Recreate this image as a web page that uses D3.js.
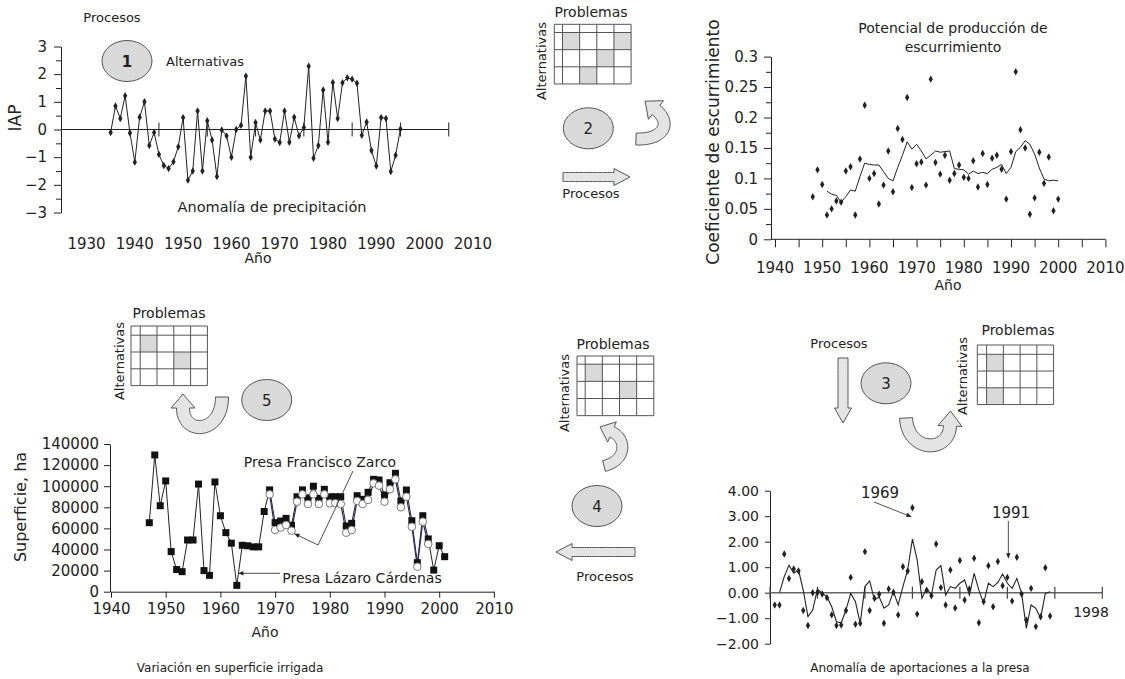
<!DOCTYPE html>
<html><head><meta charset="utf-8">
<script src="https://cdn.jsdelivr.net/npm/d3@7"></script>
<style>
body{margin:0;background:#fff;}
svg{display:block;font-family:"DejaVu Sans",sans-serif;}
text{fill:#222;}
.ax path,.ax line{stroke:#222;stroke-width:1;}
.ax text{fill:#222;font-family:"DejaVu Sans",sans-serif;}
</style></head><body>
<script>
// ---- Panel 1: precipitation anomaly index (IAP), yearly from 1935 ----
const iapStart = 1935;
const iapValues = [-0.11,0.85,0.40,1.22,-0.13,-1.18,0.44,1.00,-0.58,-0.11,
  -0.90,-1.30,-1.41,-1.17,-0.62,0.43,-1.83,-1.50,0.67,-1.50,
  0.32,-0.38,-1.70,-0.02,-0.23,-1.00,0.00,0.15,1.93,-1.00,
  0.25,-0.38,0.67,0.67,-0.34,-0.47,0.67,-0.46,0.44,-0.23,
  0.07,2.29,-1.04,-0.58,1.43,-0.46,1.70,0.40,1.69,1.87,
  1.82,1.67,-0.21,0.27,-0.76,-1.32,0.43,0.40,-1.52,-0.93,0.02];
const iapYTicks = [-3,-2,-1,0,1,2,3];
const iapXLabels = [1930,1940,1950,1960,1970,1980,1990,2000,2010];
const iapZeroTicks = [1945,1955,1965,1975,1985,1995,2005];

// ---- Panel 2: runoff coefficient, yearly points from 1948, smoothed curve from 1951 ----
const runoffStart = 1948;
const runoffPoints = [0.070,0.114,0.090,0.040,0.050,0.063,0.061,0.112,0.119,0.040,
  0.132,0.220,0.100,0.108,0.058,0.089,0.145,0.078,0.182,0.164,
  0.233,0.085,0.124,0.127,0.089,0.263,0.126,0.107,0.138,0.097,
  0.108,0.122,0.102,0.100,0.129,0.086,0.141,0.090,0.133,0.138,
  0.115,0.066,0.144,0.275,0.180,0.150,0.041,0.068,0.143,0.092,
  0.135,0.047,0.066];
const runoffCurveStart = 1951;
const runoffCurve = [0.079,0.074,0.072,0.061,0.070,0.081,0.079,0.103,0.125,0.123,
  0.122,0.122,0.111,0.100,0.096,0.118,0.138,0.160,0.148,0.156,
  0.145,0.132,0.138,0.145,0.143,0.144,0.145,0.116,0.115,0.114,
  0.107,0.112,0.108,0.110,0.108,0.115,0.118,0.123,0.108,0.118,
  0.144,0.151,0.162,0.156,0.140,0.117,0.099,0.096,0.097,0.096];
const runoffYTicks = [0,0.05,0.1,0.15,0.2,0.25,0.3];
const runoffXTicks = [1940,1945,1950,1955,1960,1965,1970,1975,1980,1985,1990,1995,2000,2005,2010];
const runoffXLabels = [1940,1950,1960,1970,1980,1990,2000,2010];

// ---- Panel 3: irrigated area (ha) ----
const lcStart = 1947; // Presa Lázaro Cárdenas
const lcArea = [65400,129600,81500,105000,38000,21000,19000,49000,49000,102000,
  20000,15500,104000,72000,56000,46000,6000,44000,43500,42500,
  42500,76000,96500,65500,67000,69500,63000,90000,96500,89000,
  100000,88500,97000,90000,90000,90000,62300,64800,91000,87600,
  94200,106500,105900,91700,103300,112200,86000,96400,67300,27500,
  72000,50000,20500,43600,33200];
const fzStart = 1969; // Presa Francisco Zarco
const fzArea = [92300,58500,60700,63200,57800,85300,92300,83100,92300,83100,
  92300,83800,83800,83100,55900,58500,86000,83100,87000,102700,
  100500,85300,97100,106500,80000,90000,61600,23700,66400,45200];
const areaYTicks = [0,20000,40000,60000,80000,100000,120000,140000];
const areaXTicks = [1940,1950,1960,1970,1980,1990,2000,2010];

// ---- Panel 4: inflow anomaly to the reservoir ----
const inflowStart = 1940;
const inflowPoints = [-0.48,-0.48,1.52,0.56,0.93,0.85,-0.70,-1.29,0.00,0.01,
  -0.05,-0.20,-0.87,-1.29,-1.27,-0.70,0.60,-1.24,-1.20,1.61,
  -0.70,-0.22,-0.06,-1.20,0.15,0.02,-0.87,1.02,0.85,3.33,
  -0.84,0.43,0.10,-0.12,1.91,0.20,-0.48,0.89,-0.60,1.26,
  -0.29,0.15,1.35,-1.18,-0.35,1.06,-0.55,1.22,0.27,0.60,
  -0.33,1.39,-0.05,-1.07,0.17,-1.33,-0.94,0.98,-0.91];
const inflowCurveStart = 1941;
const inflowCurve = [0.00,0.63,1.08,0.76,0.89,0.10,-0.94,-0.68,0.14,-0.03,
  -0.16,-0.55,-1.14,-1.18,-0.68,-0.03,-0.35,-1.20,0.24,0.46,
  -0.29,-0.16,-0.61,-0.48,0.04,-0.48,0.24,0.89,2.10,1.29,
  -0.22,0.17,-0.09,0.89,1.06,-0.09,0.24,0.17,0.37,0.50,
  -0.09,0.76,0.10,-0.42,0.37,0.24,0.40,0.73,0.37,0.17,
  0.56,-0.03,-1.40,-0.48,-0.61,-1.00,-0.03,0.04];
const inflowYTicks = [-2,-1,0,1,2,3,4];
const inflowZeroTicks = [1939,1949,1959,1969,1979,1989,1999,2009];

const svg = d3.select("body").append("svg").attr("width",1125).attr("height",679);
const INK = "#222", GRID = "#555", SHADE = "#d9d9d9";
const fmtInt = d3.format("d");

function label(g, x, y, s, size, anchor="middle", rot=0, weight="normal") {
  const t = g.append("text").attr("x",x).attr("y",y).attr("font-size",size)
    .attr("text-anchor",anchor).attr("dominant-baseline","central")
    .attr("font-weight",weight).text(s);
  if (rot) t.attr("transform",`rotate(${rot},${x},${y})`);
  return t;
}
function styleAxis(sel, size) {
  sel.attr("class","ax").attr("font-size",size);
  return sel;
}
function bubble(g, cx, cy, n, weight="normal") {
  g.append("ellipse").attr("cx",cx).attr("cy",cy).attr("rx",25).attr("ry",20.5)
    .attr("fill",SHADE).attr("stroke",GRID).attr("stroke-width",1);
  label(g, cx, cy+1, n, 15, "middle", 0, weight);
}
// problem/alternative matrix: header strip plus 4 x 3 cells
function matrix(g, x0, y0, hw, cw, shaded) {
  const xs=[x0, x0+hw], ys=[y0, y0+hw];
  for (let i=1;i<=4;i++) xs.push(x0+hw+i*cw);
  for (let i=1;i<=3;i++) ys.push(y0+hw+i*cw);
  shaded.forEach(([r,c]) => g.append("rect").attr("x",xs[c]).attr("y",ys[r])
    .attr("width",cw).attr("height",cw).attr("fill",SHADE));
  xs.forEach(x => g.append("line").attr("x1",x).attr("x2",x).attr("y1",ys[0]).attr("y2",ys[ys.length-1]).attr("stroke",GRID));
  ys.forEach(y => g.append("line").attr("y1",y).attr("y2",y).attr("x1",xs[0]).attr("x2",xs[xs.length-1]).attr("stroke",GRID));
  return {xs, ys};
}
// block arrow whose body follows a cubic Bezier; head continues along the end tangent
function blockArrow(g, p0, c1, c2, p1, w, hw, hl) {
  const B=(t,a,b,c,d)=>{const u=1-t;return u*u*u*a+3*u*u*t*b+3*u*t*t*c+t*t*t*d;};
  const D=(t,a,b,c,d)=>{const u=1-t;return 3*u*u*(b-a)+6*u*t*(c-b)+3*t*t*(d-c);};
  const L=[],R=[];
  const N=40;
  let T=[1,0];
  for (let i=0;i<=N;i++){
    const t=i/N;
    const x=B(t,p0[0],c1[0],c2[0],p1[0]), y=B(t,p0[1],c1[1],c2[1],p1[1]);
    let dx=D(t,p0[0],c1[0],c2[0],p1[0]), dy=D(t,p0[1],c1[1],c2[1],p1[1]);
    const m=Math.hypot(dx,dy)||1; dx/=m; dy/=m; T=[dx,dy];
    L.push([x - dy*w/2, y + dx*w/2]); R.push([x + dy*w/2, y - dx*w/2]);
  }
  const [ex,ey]=p1, [tx,ty]=T, nx=-ty, ny=tx;
  const pts = L.concat([[ex+nx*hw, ey+ny*hw],[ex+tx*hl, ey+ty*hl],[ex-nx*hw, ey-ny*hw]], R.reverse());
  g.append("path").attr("d", d3.line()(pts)+"Z").attr("fill","#e4e4e4")
    .attr("stroke",GRID).attr("stroke-width",1).attr("stroke-linejoin","round");
}
const diamond = d3.symbol().type(d3.symbolDiamond).size(16);
function arrowHead(g, from, to, size=5) {
  const a=Math.atan2(to[1]-from[1], to[0]-from[0]);
  const p=[to,[to[0]-size*Math.cos(a)+size*0.45*Math.sin(a), to[1]-size*Math.sin(a)-size*0.45*Math.cos(a)],
    [to[0]-size*Math.cos(a)-size*0.45*Math.sin(a), to[1]-size*Math.sin(a)+size*0.45*Math.cos(a)]];
  g.append("path").attr("d",d3.line()(p)+"Z").attr("fill",INK);
}

// ================= Panel 1 =================
{
  const g = svg.append("g");
  const x = d3.scaleLinear().domain([1930,2010]).range([86.5,472.9]);
  const y = d3.scaleLinear().domain([-3,3]).range([212.5,46.5]);
  styleAxis(g.append("g").attr("transform","translate(61,0)")
    .call(d3.axisLeft(y).tickValues(iapYTicks).tickSize(7).tickSizeOuter(0).tickPadding(7).tickFormat(fmtInt)), 15);
  const minor = d3.range(-2.5,3,1);
  styleAxis(g.append("g").attr("transform","translate(61,0)")
    .call(d3.axisLeft(y).tickValues(minor).tickSize(5).tickFormat("")), 15).select(".domain").remove();
  iapXLabels.forEach(v => label(g, x(v), 244, v, 15));
  g.append("line").attr("x1",61).attr("x2",x(2005)).attr("y1",y(0)).attr("y2",y(0)).attr("stroke",INK);
  iapZeroTicks.forEach(v => g.append("line").attr("x1",x(v)).attr("x2",x(v))
    .attr("y1",y(0)-7).attr("y2",y(0)+7).attr("stroke",INK));
  const line = d3.line().x((d,i)=>x(iapStart+i)).y(d=>y(d));
  g.append("path").attr("d",line(iapValues)).attr("fill","none").attr("stroke",INK).attr("stroke-width",1);
  g.selectAll(".d1").data(iapValues).join("path")
    .attr("transform",(d,i)=>`translate(${x(iapStart+i)},${y(d)})`).attr("d",diamond).attr("fill",INK);
  label(g, 15, 118, "IAP", 17, "middle", -90);
  label(g, 258, 258, "Año", 14);
  label(g, 272, 207, "Anomalía de precipitación", 14.5);
  label(g, 112, 17, "Procesos", 13);
  bubble(g, 127, 61, "1", "bold");
  label(g, 166, 61, "Alternativas", 13, "start");
}

// ================= Diagram 2 (top centre) =================
{
  const g = svg.append("g");
  matrix(g, 554.3, 24.3, 8.2, 17.15, [[1,1],[1,4],[2,3],[3,2]]);
  label(g, 591, 12, "Problemas", 14);
  label(g, 541, 61, "Alternativas", 13, "middle", -90);
  bubble(g, 588.3, 128.3, "2");
  blockArrow(g, [636,139], [664,140], [672,123], [656,110], 12, 12, 14);
  blockArrow(g, [563,177], [580,177], [597,177], [614,177], 9, 8.5, 16);
  label(g, 591, 193, "Procesos", 13);
}

// ================= Panel 2 =================
{
  const g = svg.append("g");
  const x = d3.scaleLinear().domain([1940,2010]).range([775,1105.4]);
  const y = d3.scaleLinear().domain([0,0.3]).range([239.3,56.6]);
  styleAxis(g.append("g").attr("transform","translate(771,0)")
    .call(d3.axisLeft(y).tickValues(runoffYTicks).tickSize(7).tickSizeOuter(0).tickPadding(6)
      .tickFormat(d => d===0 ? "0" : String(+d.toFixed(3)))), 15);
  styleAxis(g.append("g").attr("transform","translate(771,0)")
    .call(d3.axisLeft(y).tickValues(d3.range(0.025,0.3,0.05)).tickSize(5).tickFormat("")), 15)
    .select(".domain").remove();
  const xa = styleAxis(g.append("g").attr("transform",`translate(0,${y(0)})`)
    .call(d3.axisBottom(x).tickValues(runoffXTicks).tickSize(8).tickFormat("")), 15);
  xa.select(".domain").remove();
  g.append("line").attr("x1",771).attr("x2",x(2010)).attr("y1",y(0)).attr("y2",y(0)).attr("stroke",INK);
  runoffXLabels.forEach(v => label(g, x(v), 268, v, 15));
  g.append("path").attr("d", d3.line().x((d,i)=>x(runoffCurveStart+i)).y(d=>y(d))(runoffCurve))
    .attr("fill","none").attr("stroke",INK).attr("stroke-width",1);
  g.selectAll(".d2").data(runoffPoints).join("path")
    .attr("transform",(d,i)=>`translate(${x(runoffStart+i)},${y(d)})`).attr("d",diamond).attr("fill",INK);
  label(g, 713, 142, "Coeficiente de escurrimiento", 17, "middle", -90);
  label(g, 948, 285, "Año", 14);
  label(g, 953, 28, "Potencial de producción de", 14);
  label(g, 953, 47, "escurrimiento", 14);
}

// ================= Diagram 5 (bottom left) =================
{
  const g = svg.append("g");
  matrix(g, 131, 326, 9.2, 16.8, [[1,1],[2,3]]);
  label(g, 169, 313, "Problemas", 14);
  label(g, 119.5, 361, "Alternativas", 13, "middle", -90);
  bubble(g, 266.7, 400, "5");
  blockArrow(g, [222,397], [222,434], [183,436], [183,408], 13, 12, 14);
}

// ================= Panel 3 =================
{
  const g = svg.append("g");
  const x = d3.scaleLinear().domain([1940,2010]).range([111,493.9]);
  const y = d3.scaleLinear().domain([0,140000]).range([591.7,444]);
  styleAxis(g.append("g").attr("transform","translate(110,0)")
    .call(d3.axisLeft(y).tickValues(areaYTicks).tickSize(6).tickSizeOuter(0).tickPadding(5).tickFormat(fmtInt)), 15);
  styleAxis(g.append("g").attr("transform",`translate(0,${y(0)})`)
    .call(d3.axisBottom(x).tickValues(areaXTicks).tickSize(6).tickSizeOuter(0).tickPadding(6).tickFormat(fmtInt)), 15);
  const lcLine = d3.line().x((d,i)=>x(lcStart+i)).y(d=>y(d));
  const fzLine = d3.line().x((d,i)=>x(fzStart+i)).y(d=>y(d));
  g.append("path").attr("d",lcLine(lcArea)).attr("fill","none").attr("stroke",INK).attr("stroke-width",1);
  g.append("path").attr("d",fzLine(fzArea)).attr("fill","none").attr("stroke","#2b2b6b").attr("stroke-width",1.2);
  g.selectAll(".sq").data(lcArea).join("rect")
    .attr("x",(d,i)=>x(lcStart+i)-3.5).attr("y",d=>y(d)-3.5).attr("width",7).attr("height",7).attr("fill","#111");
  g.selectAll(".ci").data(fzArea).join("circle")
    .attr("cx",(d,i)=>x(fzStart+i)).attr("cy",d=>y(d)).attr("r",3.8)
    .attr("fill","#fff").attr("stroke","#777").attr("stroke-width",1);
  label(g, 20, 507, "Superficie, ha", 16, "middle", -90);
  label(g, 265, 632, "Año", 14);
  label(g, 230, 668, "Variación en superficie irrigada", 12);
  // leaders
  label(g, 320, 462, "Presa Francisco Zarco", 14);
  const fzi = 1973 - fzStart;
  const tipF = [x(1973)+3, y(fzArea[fzi])+3];
  g.append("polyline").attr("points",`353,471 318,545 ${tipF[0]},${tipF[1]}`)
    .attr("fill","none").attr("stroke",INK).attr("stroke-width",0.8);
  arrowHead(g, [318,545], tipF, 5);
  label(g, 362, 578, "Presa Lázaro Cárdenas", 14);
  const a = [x(1963), y(lcArea[1963-lcStart])], b = [x(1964), y(lcArea[1964-lcStart])];
  const tipL = [a[0]+(b[0]-a[0])*0.3, a[1]+(b[1]-a[1])*0.3];
  g.append("line").attr("x1",280).attr("y1",tipL[1]).attr("x2",tipL[0]).attr("y2",tipL[1])
    .attr("stroke",INK).attr("stroke-width",0.8);
  arrowHead(g, [280,tipL[1]], tipL, 5);
}

// ================= Diagram 4 (bottom centre) =================
{
  const g = svg.append("g");
  matrix(g, 577, 356, 8.2, 17.15, [[1,1],[2,3]]);
  label(g, 613, 344, "Problemas", 14);
  label(g, 564, 393, "Alternativas", 13, "middle", -90);
  blockArrow(g, [604,466], [628,460], [626,438], [612,432], 11, 11, 13);
  bubble(g, 597, 506, "4");
  blockArrow(g, [635,552], [616,552], [593,552], [572,552], 9, 8.5, 16);
  label(g, 605, 576, "Procesos", 13);
}

// ================= Diagram 3 (bottom right) =================
{
  const g = svg.append("g");
  matrix(g, 977.3, 345, 9.3, 16.75, [[1,1],[3,1]]);
  label(g, 1018, 330, "Problemas", 14);
  label(g, 962, 376, "Alternativas", 13, "middle", -90);
  label(g, 839, 343, "Procesos", 13);
  blockArrow(g, [843,358], [843,375], [843,392], [843,408], 10, 8.5, 15);
  bubble(g, 886, 383.3, "3");
  blockArrow(g, [906,418], [908,453], [949,453], [950,426], 13, 12, 15);
}

// ================= Panel 4 =================
{
  const g = svg.append("g");
  const x = d3.scaleLinear().domain([1939,2009]).range([770,1102.3]);
  const y = d3.scaleLinear().domain([-2,4]).range([643.7,490.7]);
  styleAxis(g.append("g").attr("transform","translate(770,0)")
    .call(d3.axisLeft(y).tickValues(inflowYTicks).tickSize(5).tickSizeOuter(0).tickPadding(6)
      .tickFormat(d3.format(".2f"))), 14);
  g.append("line").attr("x1",770).attr("x2",x(2009)).attr("y1",y(0)).attr("y2",y(0))
    .attr("stroke","#666").attr("stroke-width",1.6);
  inflowZeroTicks.forEach(v => g.append("line").attr("x1",x(v)).attr("x2",x(v))
    .attr("y1",y(0)-6).attr("y2",y(0)+6).attr("stroke","#444").attr("stroke-width",1.2));
  g.append("path").attr("d", d3.line().x((d,i)=>x(inflowCurveStart+i)).y(d=>y(d))(inflowCurve))
    .attr("fill","none").attr("stroke",INK).attr("stroke-width",1.1);
  g.selectAll(".d4").data(inflowPoints).join("path")
    .attr("transform",(d,i)=>`translate(${x(inflowStart+i)},${y(d)})`).attr("d",diamond).attr("fill",INK);
  label(g, 1091, 612, "1998", 14);
  label(g, 880, 493, "1969", 15);
  const t69 = [x(1969)-1, y(inflowPoints[1969-inflowStart])+9];
  g.append("line").attr("x1",874).attr("y1",502).attr("x2",t69[0]).attr("y2",t69[1])
    .attr("stroke",INK).attr("stroke-width",0.8);
  arrowHead(g, [874,502], t69, 5);
  label(g, 1011, 513, "1991", 15);
  const t91 = [x(1991)-8.5, y(inflowPoints[1991-inflowStart])+1];
  g.append("line").attr("x1",t91[0]).attr("y1",521).attr("x2",t91[0]).attr("y2",t91[1])
    .attr("stroke",INK).attr("stroke-width",0.8);
  arrowHead(g, [t91[0],521], t91, 5);
  label(g, 920, 668, "Anomalía de aportaciones a la presa", 12);
}
</script></body></html>
